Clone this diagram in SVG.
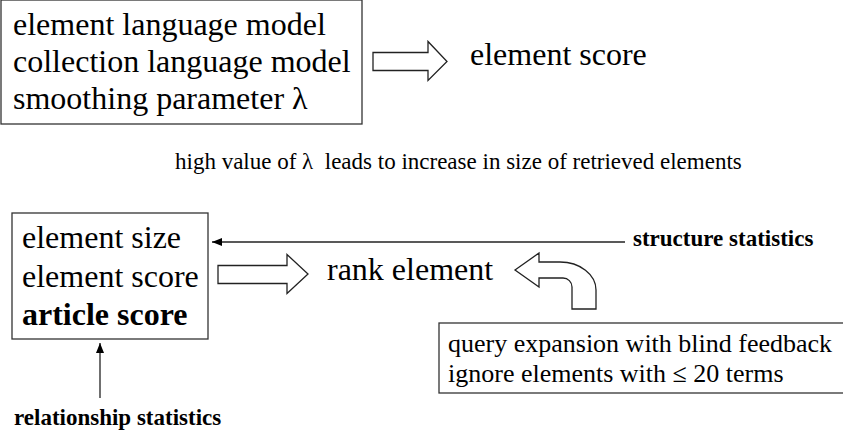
<svg xmlns="http://www.w3.org/2000/svg" width="843" height="433" viewBox="0 0 843 433" font-family="'Times New Roman', 'Liberation Serif', Times, serif">
<style>
text{font-family:"Times New Roman","Liberation Serif",Times,serif;fill:#000}
.big{font-size:32px}
.mid{font-size:26px}
.sm{font-size:23px}
.b{font-weight:bold}
.box{fill:#fff;stroke:#333;stroke-width:1.3}
.ha{fill:#fff;stroke:#222;stroke-width:1.3;stroke-linejoin:miter}
.ln{stroke:#222;stroke-width:1.3;fill:none}
</style>
<defs>
<marker id="ah" viewBox="0 0 10 8" refX="10" refY="4" markerWidth="10" markerHeight="8" markerUnits="userSpaceOnUse" orient="auto">
<path d="M0,0 L10,4 L0,8 Z" fill="#000"/>
</marker>
</defs>
<g id="lm-box">
<rect class="box" x="1" y="0" width="361" height="124"/>
<text class="big" x="13" y="35">element language model</text>
<text class="big" x="13" y="72">collection language model</text>
<text class="big" x="13" y="109">smoothing parameter λ</text>
</g>
<g id="element-score">
<text class="big" x="470" y="65">element score</text>
</g>
<g id="note">
<text class="sm" x="175" y="169" xml:space="preserve">high value of λ  leads to increase in size of retrieved elements</text>
</g>
<g id="feature-box">
<rect class="box" x="12" y="213" width="196" height="126"/>
<text class="big" x="22" y="248">element size</text>
<text class="big" x="22" y="287">element score</text>
<text class="big b" x="22" y="325">article score</text>
</g>
<g id="rank-element">
<text class="big" x="327" y="280">rank element</text>
</g>
<g id="structure-statistics">
<text class="sm b" x="633" y="246">structure statistics</text>
</g>
<g id="relationship-statistics">
<text class="sm b" x="14" y="425">relationship statistics</text>
</g>
<g id="query-box">
<rect class="box" x="439" y="323" width="410" height="70"/>
<text class="mid" x="448" y="352">query expansion with blind feedback</text>
<text class="mid" x="448" y="382">ignore elements with ≤ 20 terms</text>
</g>
<g id="connectors">
<path class="ha" d="M373,52.5 L428,52.5 L428,41.5 L447,61.5 L428,80.5 L428,70.5 L373,70.5 Z"/>
<path class="ha" d="M218,265.5 L287,265.5 L287,254.5 L308,274 L287,293.5 L287,283.5 L218,283.5 Z"/>
<path class="ha" d="M515,270 L539,253 L539,262 L560,262 A36,28 0 0 1 596,290 L596,309 L572,309 L572,287 A9,9 0 0 0 563,278 L539,278 L539,287 Z"/>
<line class="ln" x1="625" y1="242" x2="212" y2="242" marker-end="url(#ah)"/>
<line class="ln" x1="100" y1="398" x2="100" y2="343" marker-end="url(#ah)"/>
</g>
</svg>
